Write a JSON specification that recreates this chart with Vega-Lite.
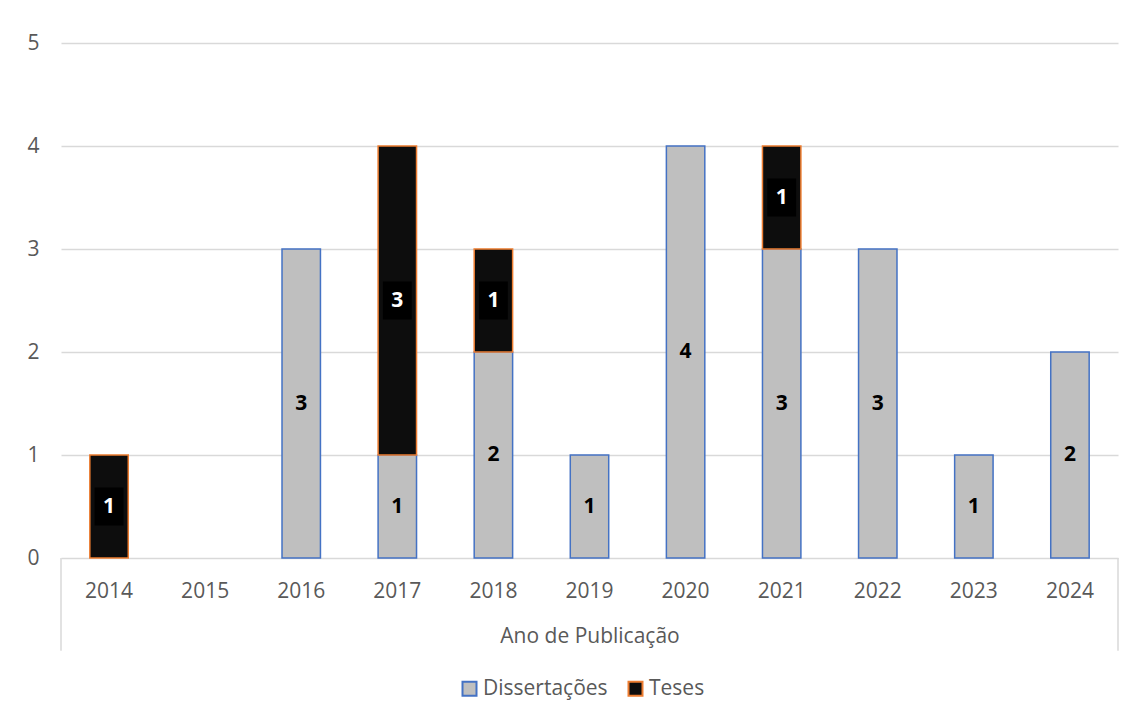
{
  "$schema": "https://vega.github.io/schema/vega-lite/v6.json",
  "width": 1057,
  "height": 515,
  "autosize": {"type": "none"},
  "padding": {"left": 61, "top": 43, "right": 17, "bottom": 160},
  "background": "white",
  "config": {"font": "Open Sans", "view": {"stroke": null}},
  "datasets": {
    "counts": [
      {"year": "2014", "type": "Teses", "count": 1},
      {"year": "2016", "type": "Dissertações", "count": 3},
      {"year": "2017", "type": "Dissertações", "count": 1},
      {"year": "2017", "type": "Teses", "count": 3},
      {"year": "2018", "type": "Dissertações", "count": 2},
      {"year": "2018", "type": "Teses", "count": 1},
      {"year": "2019", "type": "Dissertações", "count": 1},
      {"year": "2020", "type": "Dissertações", "count": 4},
      {"year": "2021", "type": "Dissertações", "count": 3},
      {"year": "2021", "type": "Teses", "count": 1},
      {"year": "2022", "type": "Dissertações", "count": 3},
      {"year": "2023", "type": "Dissertações", "count": 1},
      {"year": "2024", "type": "Dissertações", "count": 2}
    ],
    "edges": [{"edge": 0}, {"edge": 1}]
  },
  "layer": [
    {
      "data": {"name": "edges"},
      "mark": {"type": "rule", "color": "#D9D9D9", "strokeWidth": 1.5},
      "encoding": {
        "x": {"field": "edge", "type": "quantitative", "scale": {"domain": [0, 1]}, "axis": null},
        "y": {"datum": 0, "type": "quantitative", "scale": {"domain": [0, 5]}},
        "y2": {"datum": -0.9}
      }
    },
    {
      "data": {"name": "counts"},
      "encoding": {
        "x": {
          "field": "year",
          "type": "nominal",
          "scale": {
            "domain": ["2014", "2015", "2016", "2017", "2018", "2019", "2020", "2021", "2022", "2023", "2024"],
            "paddingInner": 0.6,
            "paddingOuter": 0.3
          },
          "title": "Ano de Publicação",
          "axis": {
            "labelAngle": 0,
            "labelFontSize": 21,
            "labelColor": "#595959",
            "labelPadding": 22,
            "ticks": false,
            "tickSize": 0,
            "domain": false,
            "titleFontSize": 21,
            "titleFontWeight": "normal",
            "titleColor": "#595959",
            "titlePadding": 24
          }
        },
        "order": {"field": "type", "sort": "ascending"}
      },
      "layer": [
        {
          "mark": {"type": "bar", "strokeWidth": 1.5},
          "encoding": {
            "y": {
              "field": "count",
              "type": "quantitative",
              "stack": "zero",
              "scale": {"domain": [0, 5]},
              "axis": {
                "values": [0, 1, 2, 3, 4, 5],
                "format": "d",
                "title": null,
                "grid": true,
                "labelFontSize": 21,
                "labelColor": "#595959",
                "labelPadding": 22,
                "ticks": false,
                "tickSize": 0,
                "domain": false,
                "gridColor": "#D9D9D9",
                "gridWidth": 1.5,
                "zindex": 0
              }
            },
            "fill": {
              "field": "type",
              "type": "nominal",
              "scale": {"domain": ["Dissertações", "Teses"], "range": ["#BFBFBF", "#0D0D0D"]},
              "legend": {
                "title": null,
                "orient": "none",
                "legendX": 398,
                "legendY": 635,
                "direction": "horizontal",
                "labelFontSize": 21,
                "labelColor": "#595959",
                "symbolType": "square",
                "symbolSize": 196,
                "symbolStrokeWidth": 2,
                "labelOffset": 3,
                "columnPadding": 16
              }
            },
            "stroke": {
              "field": "type",
              "type": "nominal",
              "scale": {"domain": ["Dissertações", "Teses"], "range": ["#4472C4", "#ED7D31"]},
              "legend": {
                "title": null,
                "orient": "none",
                "legendX": 398,
                "legendY": 635,
                "direction": "horizontal",
                "labelFontSize": 21,
                "labelColor": "#595959",
                "symbolType": "square",
                "symbolSize": 196,
                "symbolStrokeWidth": 2,
                "labelOffset": 3,
                "columnPadding": 16
              }
            }
          }
        },
        {
          "mark": {"type": "point", "shape": "M-0.76,-1L0.76,-1L0.76,1L-0.76,1Z", "filled": true, "size": 1444, "color": "#000000", "strokeWidth": 0},
          "encoding": {
            "y": {"field": "count", "type": "quantitative", "stack": "zero", "bandPosition": 0.5},
            "detail": {"field": "type"},
            "opacity": {"condition": {"test": "datum.type === 'Teses'", "value": 1}, "value": 0}
          }
        },
        {
          "mark": {"type": "text", "fontSize": 21, "fontWeight": "bold", "align": "center", "baseline": "middle"},
          "encoding": {
            "y": {"field": "count", "type": "quantitative", "stack": "zero", "bandPosition": 0.5},
            "detail": {"field": "type"},
            "text": {"field": "count", "type": "quantitative"},
            "color": {"condition": {"test": "datum.type === 'Teses'", "value": "#FFFFFF"}, "value": "#000000"}
          }
        }
      ]
    }
  ],
  "resolve": {"scale": {"x": "independent"}}
}
